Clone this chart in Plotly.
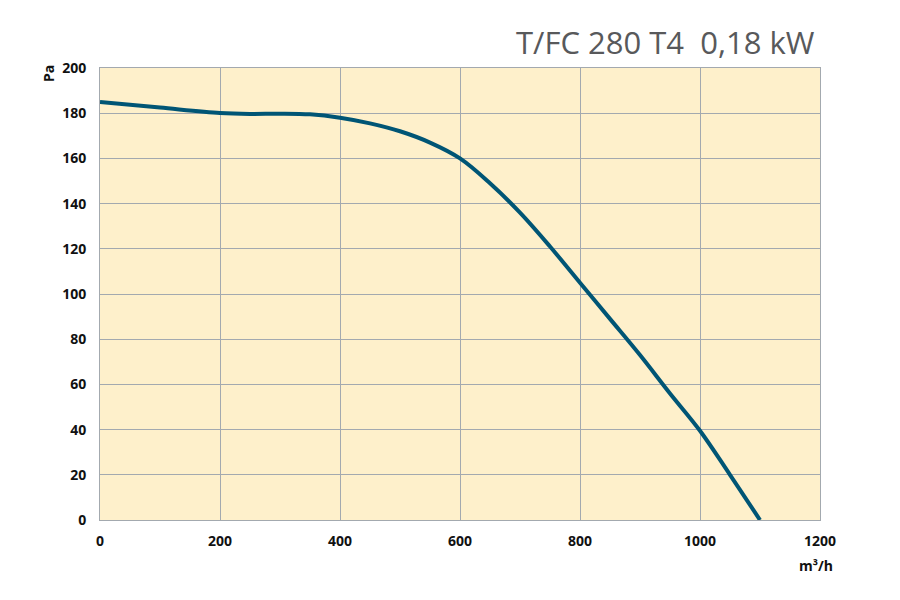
import plotly.graph_objects as go

flow = [0, 100, 200, 250, 300, 350, 400, 450, 500, 550, 600, 650, 700, 750, 800, 850, 900, 950, 1000, 1050, 1100]
pressure = [185, 182.5, 180.1, 179.7, 179.8, 179.5, 178, 175.5, 172, 167, 160, 149, 136, 121, 105, 89, 73, 56, 39.5, 20, 0]

x_ticks = [0, 200, 400, 600, 800, 1000, 1200]
y_ticks = [0, 20, 40, 60, 80, 100, 120, 140, 160, 180, 200]
title_text = "T/FC 280 T4  0,18 kW"

fig = go.Figure()
fig.add_trace(go.Scatter(x=flow, y=pressure, mode="lines",
                         line=dict(color="#005575", width=4, shape="spline", smoothing=1.0),
                         hoverinfo="skip", showlegend=False))

tickfont = dict(family="Open Sans", size=14, color="#111111", weight="bold")
fig.update_layout(
    width=900, height=600,
    margin=dict(l=92, r=88, t=60, b=88),
    paper_bgcolor="white",
    plot_bgcolor="#FEF0CB",
    xaxis=dict(range=[0, 1200], tickvals=x_ticks, showgrid=True, gridcolor="#A3A9AF", gridwidth=1,
               zeroline=False, showline=True, linecolor="#A3A9AF", mirror=True,
               tickfont=tickfont, ticks="", ticklabelstandoff=8),
    yaxis=dict(range=[0, 200], tickvals=y_ticks, showgrid=True, gridcolor="#A3A9AF", gridwidth=1,
               zeroline=False, showline=True, linecolor="#A3A9AF", mirror=True,
               tickfont=tickfont, ticks="", ticklabelstandoff=10),
    annotations=[
        dict(text=title_text, xref="paper", yref="paper", x=1.0, y=1.0, xanchor="right", yanchor="bottom",
             yshift=3, xshift=-3, showarrow=False, font=dict(family="Open Sans", size=31, color="#58595B")),
        dict(text="Pa", xref="paper", yref="paper", x=0, y=1.0, xanchor="center", yanchor="middle",
             xshift=-52, yshift=-6, textangle=-90, showarrow=False,
             font=dict(family="Open Sans", size=14, color="#111111", weight="bold")),
        dict(text="m³/h", xref="paper", yref="paper", x=1.0, y=0, xanchor="center", yanchor="top",
             xshift=-4, yshift=-34, showarrow=False,
             font=dict(family="Open Sans", size=14, color="#111111", weight="bold")),
    ],
)
fig.write_html("out.html")
